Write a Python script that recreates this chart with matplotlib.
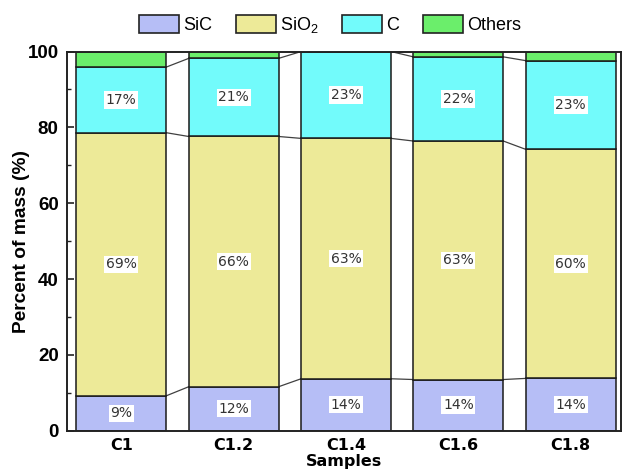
import numpy as np
from matplotlib import pyplot as plt
from matplotlib.ticker import MultipleLocator

plt.rcParams['mathtext.fontset'] = 'custom'
plt.rcParams['mathtext.rm'] = 'Liberation Sans'

samples = ['C1', 'C1.2', 'C1.4', 'C1.6', 'C1.8']
components = ['SiC', 'SiO$_\\mathregular{2}$', 'C', 'Others']
sic = [9.2, 11.6, 13.7, 13.5, 13.8]
sio2 = [69.4, 66.0, 63.4, 62.9, 60.4]
carbon = [17.3, 20.6, 22.9, 22.2, 23.4]
others = [4.1, 1.8, 0.0, 1.4, 2.4]
colors = ['#B6BEF6', '#EDEA98', '#72FBFB', '#6BEE6B']

series = [sic, sio2, carbon, others]
x = np.arange(len(samples))
width = 0.8

fig = plt.figure(figsize=(6.26, 4.73), dpi=100)
ax = fig.add_axes([0.107, 0.0894, 0.885, 0.8016])

bottom = np.zeros(len(samples))
handles = []
for vals, name, col in zip(series, components, colors):
    vals = np.array(vals)
    bars = ax.bar(x, vals, width, bottom=bottom, color=col, edgecolor='#1a1a1a',
                  linewidth=1.1, label=name, zorder=2)
    handles.append(bars)
    # labels for the three main phases
    if name != 'Others':
        for xi, b, v in zip(x, bottom, vals):
            ax.text(xi, b + v / 2, '{:.0f}%'.format(v), ha='center', va='center',
                    fontsize=10, family='DejaVu Sans', color='#333333', zorder=4,
                    bbox=dict(boxstyle='square,pad=0.12', fc='white', ec='none'))
    bottom = bottom + vals
    # link lines between neighbouring bars
    if name != 'Others':
        for i in range(len(samples) - 1):
            ax.plot([x[i] + width / 2, x[i + 1] - width / 2], [bottom[i], bottom[i + 1]],
                    color='#404040', linewidth=0.9, zorder=1)

ax.set_xlim(-0.483, 4.447)
ax.set_ylim(0, 100)
ax.set_xticks(x)
ax.set_xticklabels(samples, family='DejaVu Sans', fontweight='bold', fontsize=11.5)
ax.yaxis.set_major_locator(MultipleLocator(20))
ax.yaxis.set_minor_locator(MultipleLocator(10))
for lbl in ax.get_yticklabels():
    lbl.set_family('Liberation Sans')
    lbl.set_fontweight('bold')
    lbl.set_fontsize(13.5)
ax.tick_params(axis='both', which='major', direction='in', length=5, width=1.2, color='#222222')
ax.tick_params(axis='y', which='minor', direction='in', length=3, width=1.0, color='#222222')
ax.tick_params(axis='x', which='major', pad=5)
ax.tick_params(axis='y', which='major', pad=6)
for sp in ax.spines.values():
    sp.set_linewidth(1.4)
    sp.set_color('#222222')

ax.set_ylabel('Percent of mass (%)', family='Liberation Sans', fontweight='bold',
              fontsize=13.8)
ax.yaxis.set_label_coords(-0.066, 0.5)
ax.set_xlabel('Samples', family='DejaVu Sans', fontweight='bold', fontsize=11.5)
ax.xaxis.set_label_coords(0.5, -0.062)

leg = ax.legend(handles=handles, loc='center', bbox_to_anchor=(0.475, 1.07), ncol=4,
                frameon=False, prop={'family': 'Liberation Sans', 'size': 13},
                handlelength=2.2, handleheight=1.2, handletextpad=0.25,
                columnspacing=1.3, borderaxespad=0)
for h in leg.legend_handles:
    h.set_edgecolor('#222222')
    h.set_linewidth(1.2)

fig.savefig('out.png', dpi=100)
